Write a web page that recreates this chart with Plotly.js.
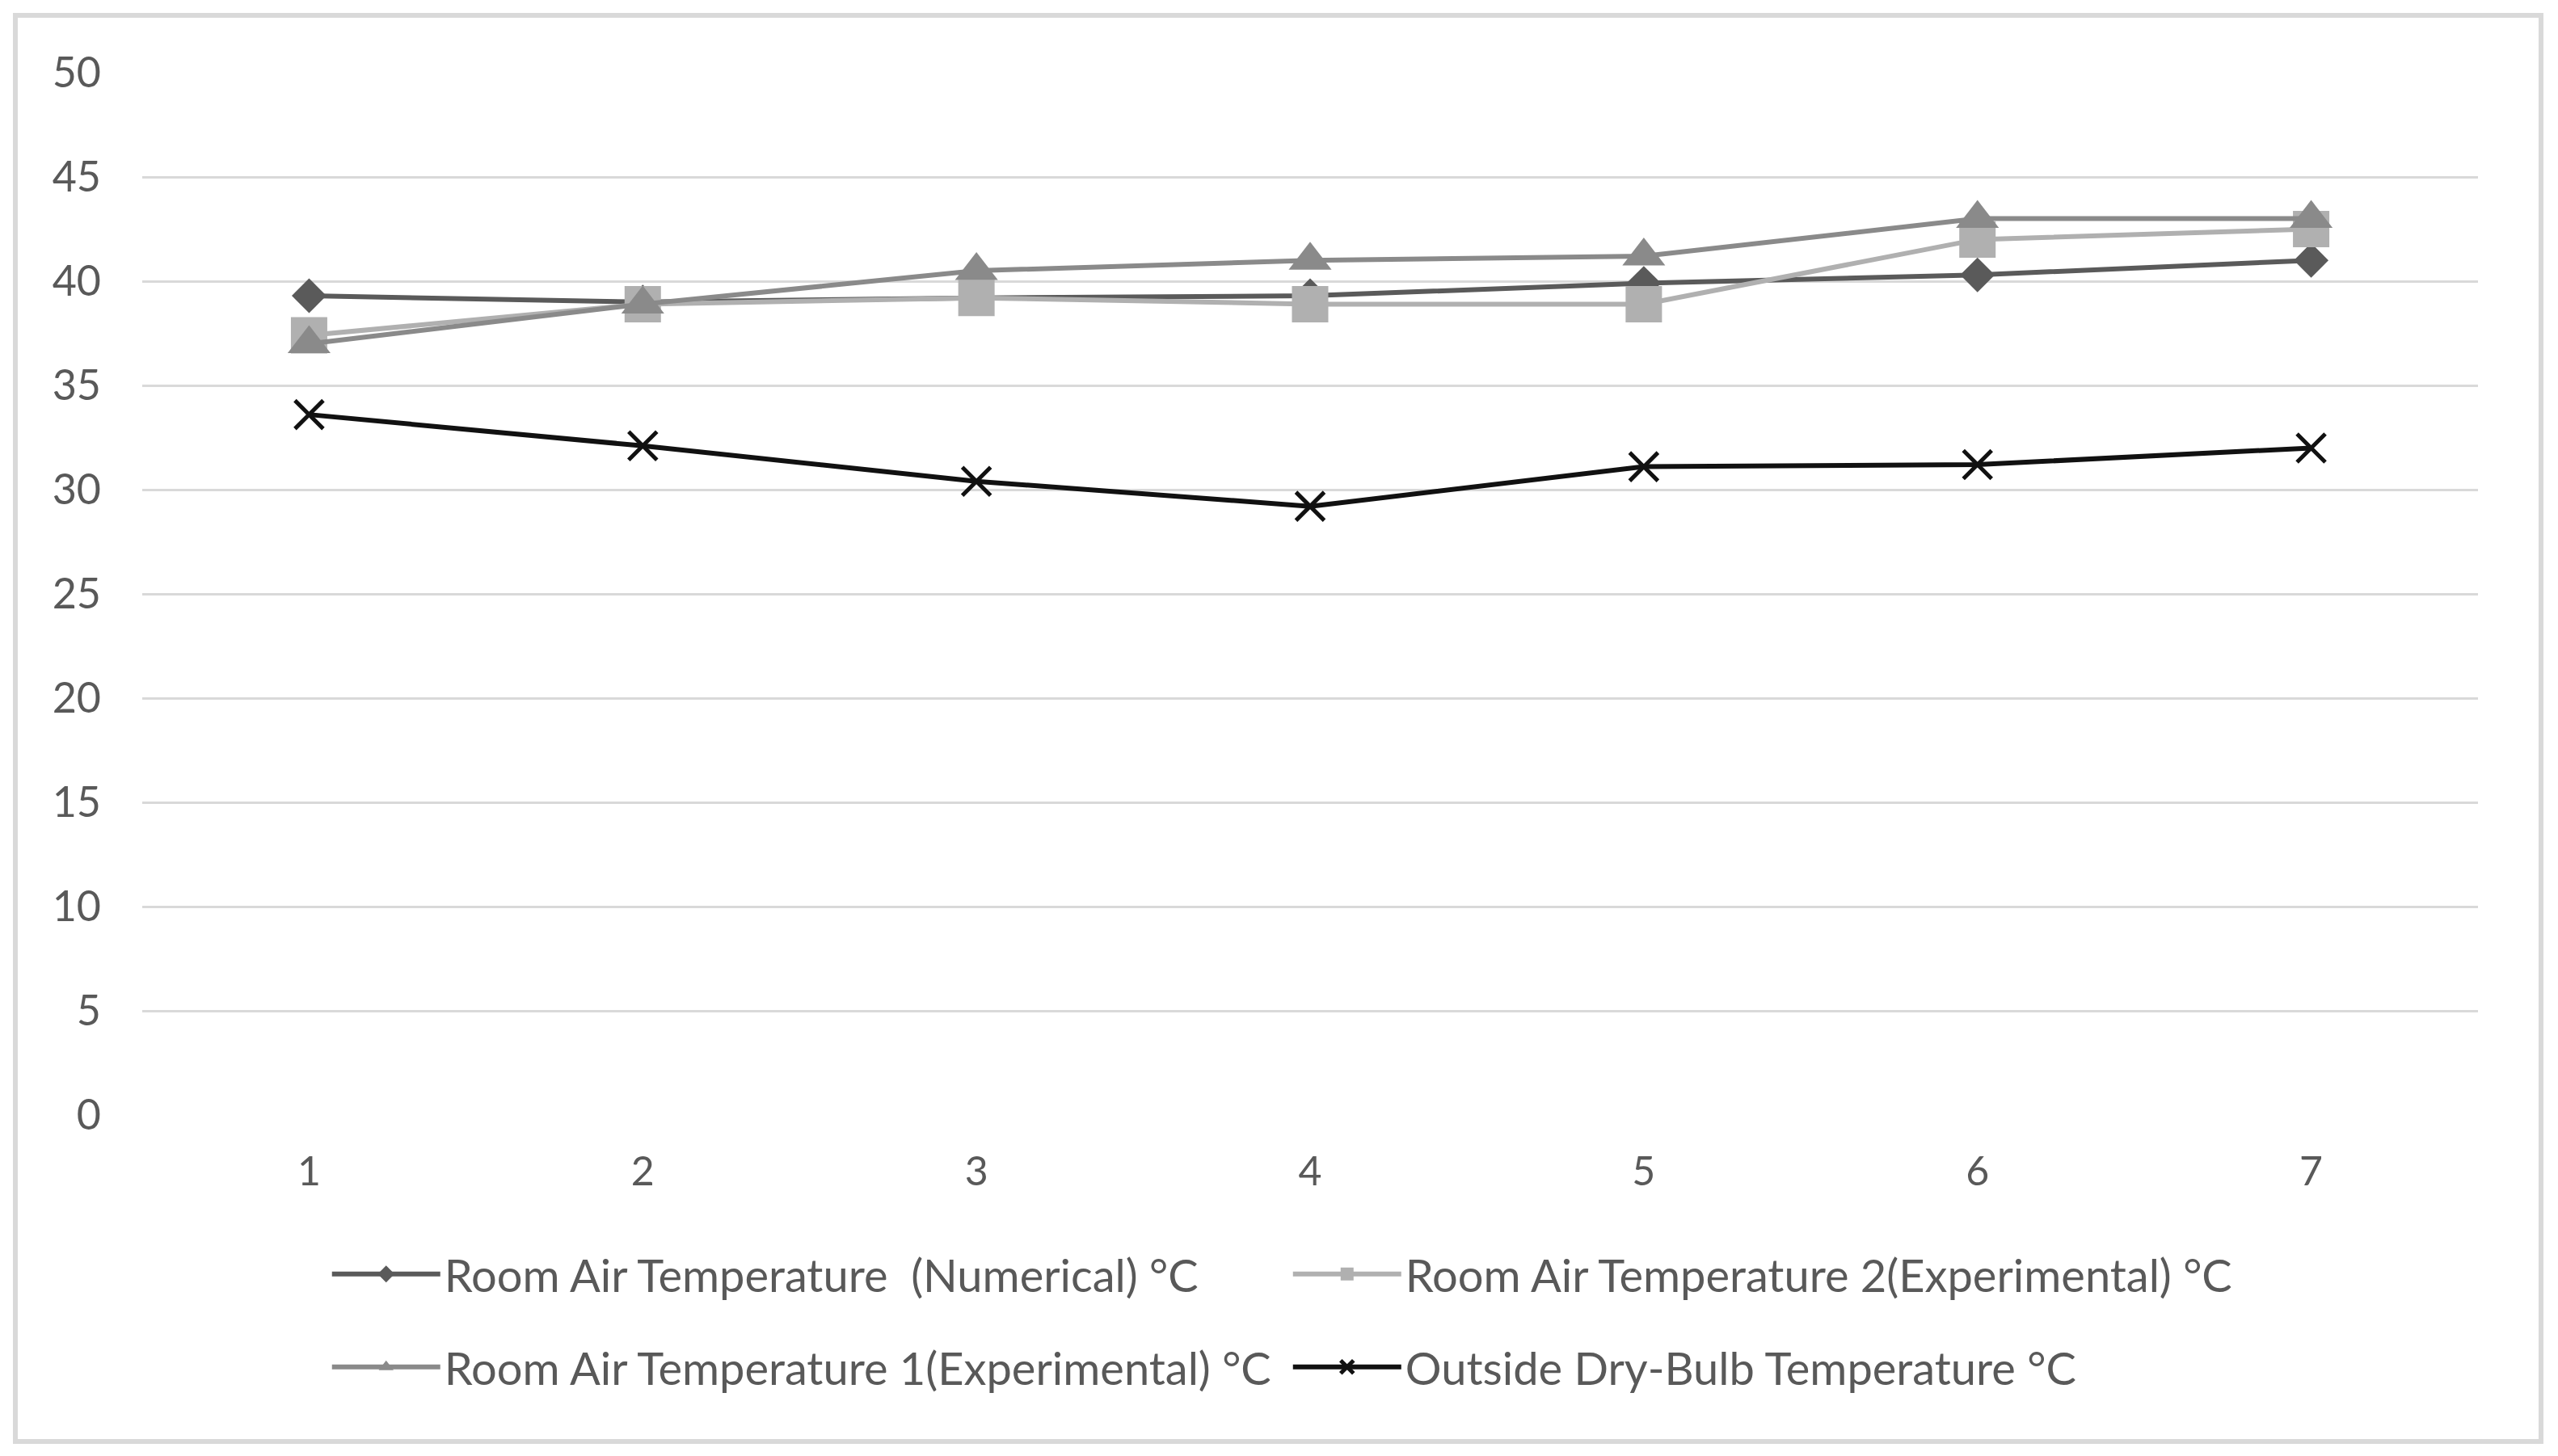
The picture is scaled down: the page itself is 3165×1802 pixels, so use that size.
<!DOCTYPE html>
<html>
<head>
<meta charset="utf-8">
<script src="https://cdn.plot.ly/plotly-3.0.1.min.js"></script>
<style>
  html, body { margin: 0; padding: 0; background: #ffffff; }
  #wrap { position: relative; width: 3165px; height: 1802px; }
  #chart { position: absolute; left: 0; top: 0; width: 3165px; height: 1802px; }
  #frame { position: absolute; left: 16px; top: 16px; width: 3119px; height: 1759px;
           border: 6px solid #d9d9d9; pointer-events: none; }
</style>
</head>
<body>
<div id="wrap">
  <div id="chart"></div>
  <div id="frame"></div>
</div>
<script>
// ---- data ----
var categories = [1, 2, 3, 4, 5, 6, 7];
var yTicks = [0, 5, 10, 15, 20, 25, 30, 35, 40, 45, 50];
var seriesNames = [
  "Room Air Temperature \u00a0(Numerical) °C",
  "Room Air Temperature 2(Experimental) °C",
  "Room Air Temperature 1(Experimental) °C",
  "Outside Dry-Bulb Temperature °C"
];
var numerical = [39.3, 39.0, 39.2, 39.3, 39.9, 40.3, 41.0];
var experimental2 = [37.4, 38.9, 39.2, 38.9, 38.9, 42.0, 42.5];
var experimental1 = [37.0, 38.9, 40.5, 41.0, 41.2, 43.0, 43.0];
var outside = [33.6, 32.1, 30.4, 29.2, 31.1, 31.2, 32.0];

var textColor = "#595959";
var fontFamily = "Lato, 'Open Sans', sans-serif";

var traces = [
  {
    x: categories, y: numerical, name: seriesNames[0], type: "scatter", mode: "lines+markers",
    line: { color: "#5a5a5a", width: 6 },
    marker: { symbol: "diamond", size: 33, color: "#5a5a5a" },
    legend: "legend"
  },
  {
    x: categories, y: experimental2, name: seriesNames[1], type: "scatter", mode: "lines+markers",
    line: { color: "#b0b0b0", width: 6 },
    marker: { symbol: "square", size: 45, color: "#b0b0b0" },
    legend: "legend"
  },
  {
    x: categories, y: experimental1, name: seriesNames[2], type: "scatter", mode: "lines+markers",
    line: { color: "#8a8a8a", width: 6 },
    marker: { symbol: "triangle-up", size: 46, color: "#8a8a8a" },
    legend: "legend2"
  },
  {
    x: categories, y: outside, name: seriesNames[3], type: "scatter", mode: "lines+markers",
    line: { color: "#111111", width: 6 },
    marker: { symbol: "x-thin-open", size: 35, color: "#111111", line: { color: "#111111", width: 5 } },
    legend: "legend2"
  }
];

var legendCommon = {
  orientation: "h",
  xanchor: "left",
  yanchor: "middle",
  x: 0.0795,
  font: { family: fontFamily, size: 56, color: textColor },
  bgcolor: "rgba(0,0,0,0)",
  entrywidth: 1040,
  itemwidth: 134,
  traceorder: "normal"
};

var layout = {
  width: 3165,
  height: 1802,
  paper_bgcolor: "#ffffff",
  plot_bgcolor: "#ffffff",
  margin: { l: 176, r: 99, t: 90, b: 422 },
  font: { family: fontFamily, size: 52, color: textColor },
  showlegend: true,
  xaxis: {
    type: "linear",
    range: [0.5, 7.5],
    tickvals: categories,
    ticktext: categories.map(String),
    showgrid: false,
    zeroline: false,
    showline: false,
    ticks: "",
    ticklabelstandoff: 36,
    tickfont: { family: fontFamily, size: 50, color: textColor },
    fixedrange: true
  },
  yaxis: {
    range: [0, 50],
    tickvals: yTicks,
    ticktext: yTicks.map(String),
    showgrid: true,
    gridcolor: "#d9d9d9",
    gridwidth: 3,
    zeroline: false,
    showline: false,
    ticks: "",
    ticklabelstandoff: 50,
    tickfont: { family: fontFamily, size: 52, color: textColor },
    fixedrange: true
  },
  legend: Object.assign({}, legendCommon, { y: -0.1526 }),
  legend2: Object.assign({}, legendCommon, { y: -0.2417 })
};

Plotly.newPlot("chart", traces, layout, { displayModeBar: false, staticPlot: true });
</script>
</body>
</html>
